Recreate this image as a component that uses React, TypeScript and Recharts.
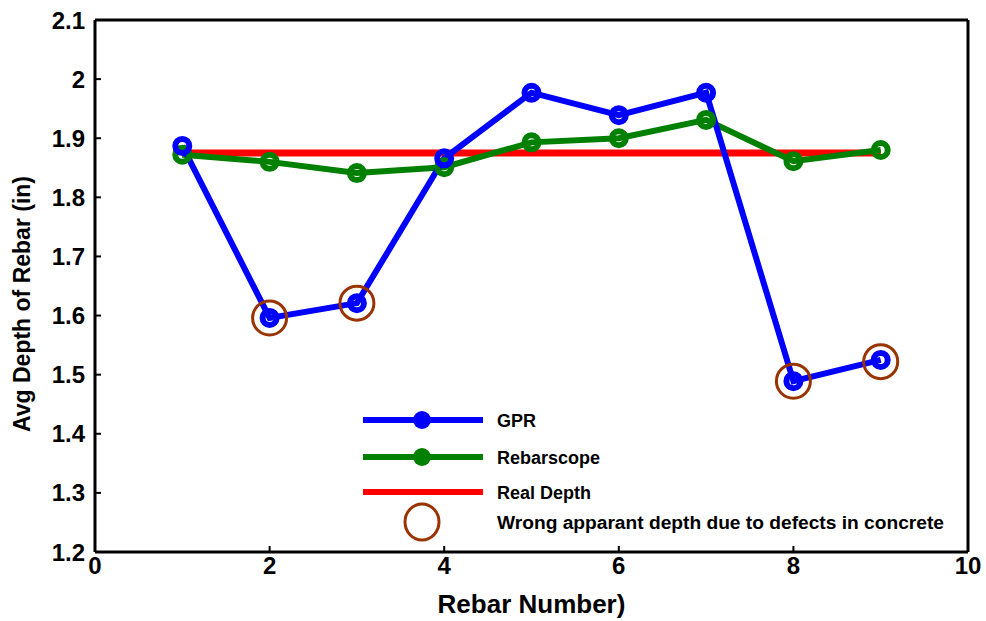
import { ComposedChart, Line, Scatter, XAxis, YAxis } from "recharts";

// Rebar numbers along the x axis
const rebarNumbers = [1, 2, 3, 4, 5, 6, 7, 8, 9];

// Average depth readings (in)
const gprDepth = [1.887, 1.596, 1.621, 1.866, 1.977, 1.939, 1.977, 1.489, 1.525];
const rebarscopeDepth = [1.872, 1.86, 1.841, 1.851, 1.893, 1.9, 1.931, 1.861, 1.88];
const realDepth = [1.875, 1.875, 1.875, 1.875, 1.875, 1.875, 1.875, 1.875, 1.875];

// Points with wrong apparent depth (defects in concrete)
const defectRebars = [2, 3, 8, 9];
const defectDepth = [1.596, 1.621, 1.489, 1.522];

const xTicks = [0, 2, 4, 6, 8, 10];
const yTicks = [1.2, 1.3, 1.4, 1.5, 1.6, 1.7, 1.8, 1.9, 2, 2.1];

const rows = rebarNumbers.map((x, i) => ({
  x,
  gpr: gprDepth[i],
  rebar: rebarscopeDepth[i],
  real: realDepth[i],
}));

const defects = defectRebars.map((x, i) => ({ x, defect: defectDepth[i] }));

const font = "'Liberation Sans', Arial, sans-serif";
const tickStyle = { fontFamily: font, fontWeight: 700, fontSize: 24, fill: "#000" };
const axisLine = { stroke: "#000", strokeWidth: 3 };
const tickLine = { stroke: "#000", strokeWidth: 2 };

const DefectRing = (props: any) => (
  <circle cx={props.cx} cy={props.cy} r={17} fill="none" stroke="#993300" strokeWidth={3} />
);

// y axis title, a little below the middle of the axis as in the reference
const YTitle = (props: any) => {
  const vb = props.viewBox || { x: 0, y: 0, width: 0, height: 0 };
  const cx = vb.x - 13;
  const cy = vb.y + vb.height / 2 + 18;
  return (
    <text
      x={cx}
      y={cy}
      transform={`rotate(-90 ${cx} ${cy})`}
      textAnchor="middle"
      dominantBaseline="central"
      fontFamily={font}
      fontWeight={700}
      fontSize={23}
      fill="#000"
    >
      Avg Depth of Rebar (in)
    </text>
  );
};

const legendItems = [
  { label: "GPR", color: "#0000ff", dot: true },
  { label: "Rebarscope", color: "#008000", dot: true },
  { label: "Real Depth", color: "#ff0000", dot: false },
];
const legendRows = [420, 457, 492];

function LegendBox() {
  return (
    <svg width={986} height={621} style={{ position: "absolute", left: 0, top: 0, pointerEvents: "none" }}>
      {legendItems.map((it, i) => {
        const y = legendRows[i];
        return (
          <g key={it.label}>
            <line x1={363} x2={483} y1={y} y2={y} stroke={it.color} strokeWidth={6} />
            {it.dot && <circle cx={422} cy={y} r={9} fill={it.color} />}
            <text x={497} y={y + 7} fontFamily={font} fontWeight={700} fontSize={18} fill="#000">
              {it.label}
            </text>
          </g>
        );
      })}
      <ellipse cx={422} cy={522} rx={17} ry={18} fill="none" stroke="#993300" strokeWidth={3} />
      <text
        x={497}
        y={529}
        fontFamily={font}
        fontWeight={700}
        fontSize={18}
        fill="#000"
        textLength={447}
        lengthAdjust="spacingAndGlyphs"
      >
        Wrong apparant depth due to defects in concrete
      </text>
    </svg>
  );
}

export default function App() {
  return (
    <div style={{ position: "absolute", left: 0, top: 0, width: 986, height: 621, background: "#fff" }}>
      <ComposedChart width={986} height={621} data={rows} margin={{ top: 19, right: 17, bottom: 39, left: 35 }}>
        <XAxis
          dataKey="x"
          type="number"
          domain={[0, 10]}
          ticks={xTicks}
          tickSize={-6}
          tickMargin={11}
          tick={tickStyle}
          axisLine={axisLine}
          tickLine={tickLine}
          height={30}
          label={{
            value: "Rebar Number)",
            position: "insideBottom",
            offset: -31,
            style: { ...tickStyle, fontSize: 26 },
          }}
        />
        <XAxis
          xAxisId="top"
          orientation="top"
          dataKey="x"
          type="number"
          domain={[0, 10]}
          ticks={xTicks}
          tickSize={-6}
          tick={false}
          axisLine={axisLine}
          tickLine={tickLine}
          height={1}
        />
        <YAxis
          type="number"
          domain={[1.2, 2.1]}
          ticks={yTicks}
          tickSize={-6}
          tickMargin={16}
          tick={tickStyle}
          axisLine={axisLine}
          tickLine={tickLine}
          width={60}
          label={<YTitle />}
        />
        <YAxis
          yAxisId="right"
          orientation="right"
          type="number"
          domain={[1.2, 2.1]}
          ticks={yTicks}
          tickSize={-6}
          tick={false}
          axisLine={axisLine}
          tickLine={tickLine}
          width={1}
        />
        <Line dataKey="real" stroke="#ff0000" strokeWidth={7} dot={false} isAnimationActive={false} />
        <Line
          dataKey="rebar"
          stroke="#008000"
          strokeWidth={6}
          dot={{ r: 7, fill: "none", stroke: "#008000", strokeWidth: 6 }}
          isAnimationActive={false}
        />
        <Line
          dataKey="gpr"
          stroke="#0000ff"
          strokeWidth={6}
          dot={{ r: 7, fill: "none", stroke: "#0000ff", strokeWidth: 6 }}
          isAnimationActive={false}
        />
        <Scatter data={defects} dataKey="defect" shape={DefectRing} isAnimationActive={false} />
      </ComposedChart>
      <LegendBox />
    </div>
  );
}
